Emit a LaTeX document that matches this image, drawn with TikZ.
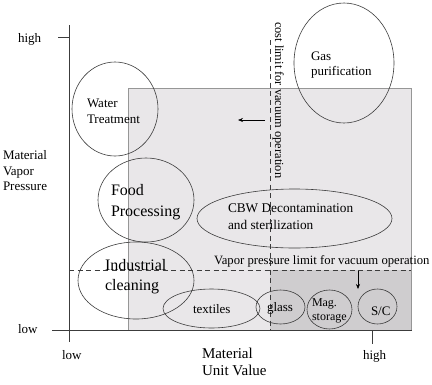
\documentclass[tikz,border=0pt]{standalone}
\usepackage{fontspec}
\setmainfont{Liberation Serif}
\usetikzlibrary{arrows.meta}
\definecolor{lightg}{RGB}{233,231,233}
\definecolor{darkg}{RGB}{207,205,207}
\definecolor{edgeg}{RGB}{150,150,150}
\definecolor{inkg}{RGB}{60,60,60}
\newcommand{\fs}[1]{\fontsize{#1}{#1}\selectfont}
\begin{document}
\begin{tikzpicture}[x=1pt,y=-1pt,
  lbl/.style={inner sep=0pt, outer sep=0pt, anchor=base west, align=left, text=black},
  blob/.style={draw=inkg, line width=0.6pt},
  axis/.style={draw=inkg, line width=0.7pt},
  limit/.style={draw=inkg, line width=0.6pt, dash pattern=on 5pt off 3.5pt},
  arr/.style={draw=black, line width=0.6pt, -{Stealth[length=5pt,width=4pt]}}]
\fill[white] (0,0) rectangle (432,384);
\useasboundingbox (0,0) rectangle (432,384);
% regions
\filldraw[fill=lightg, draw=edgeg, line width=0.6pt] (128,88) rectangle (411,330);
\fill[darkg] (270,270) rectangle (411,330);
\draw[edgeg, line width=0.6pt] (411,88) -- (411,330);
% axes
\draw[axis] (69,25) -- (69,342);
\draw[axis] (52,330) -- (412,330);
\draw[axis] (58,37) -- (69,37);
\draw[axis] (372,330) -- (372,344);
% limits
\draw[limit] (270,40) -- (270,330);
\draw[limit] (69,270) -- (411,270);
\coordinate (la) at (265,120);
\coordinate (lb) at (238,120);
\draw[arr] (la) -- (lb);
\coordinate (da) at (358,271);
\coordinate (db) at (358,289);
\draw[arr] (da) -- (db);
% blobs
\draw[blob] (115,109) ellipse [x radius=43, y radius=47];
\draw[blob] (344,63) ellipse [x radius=50, y radius=60];
\draw[blob] (146,200) ellipse [x radius=48, y radius=42];
\draw[blob] (136,280.5) ellipse [x radius=58, y radius=38.5];
\draw[blob] (294.5,218.5) ellipse [x radius=97.5, y radius=29.5];
\draw[blob] (211.5,308.5) ellipse [x radius=48.5, y radius=19.5];
\draw[blob] (280.5,307) ellipse [x radius=24.5, y radius=17];
\draw[blob] (329.5,309.5) ellipse [x radius=22.5, y radius=19.5];
\draw[blob] (377.5,306.5) ellipse [x radius=19.5, y radius=17.5];
% texts
\node[lbl, font=\fs{13}] (yhigh) at (18,42) {high};
\node[lbl, font=\fs{13}] (ylow) at (18,333) {low};
\node[lbl, font=\fs{13}] (xlow) at (62,359) {low};
\node[lbl, font=\fs{13}] (xhigh) at (363,359) {high};
\node[lbl, font=\fs{13}] (ylab1) at (3,159) {Material};
\node[lbl, font=\fs{13}] (ylab2) at (3,175) {Vapor};
\node[lbl, font=\fs{13}] (ylab3) at (3,190.5) {Pressure};
\node[lbl, font=\fs{15}] (xlab1) at (202,358) {Material};
\node[lbl, font=\fs{15}] (xlab2) at (202,375) {Unit Value};
\node[lbl, font=\fs{13}] (wt1) at (87,107) {Water};
\node[lbl, font=\fs{13}] (wt2) at (87,123) {Treatment};
\node[lbl, font=\fs{13}] (gp1) at (311,60) {Gas};
\node[lbl, font=\fs{13}] (gp2) at (311,75.5) {purification};
\node[lbl, font=\fs{16}] (fp1) at (111,195) {Food};
\node[lbl, font=\fs{16}] (fp2) at (111,216) {Processing};
\node[lbl, font=\fs{16}] (ic1) at (105,270) {Industrial};
\node[lbl, font=\fs{16}] (ic2) at (105,290) {cleaning};
\node[lbl, font=\fs{13.3}] (cbw1) at (228,212) {CBW Decontamination};
\node[lbl, font=\fs{13.3}] (cbw2) at (228,229) {and sterilization};
\node[lbl, font=\fs{13}] (tex) at (193,313) {textiles};
\node[lbl, font=\fs{13}] (gl) at (267,311) {glass};
\node[lbl, font=\fs{12}] (mag1) at (312,306) {Mag.};
\node[lbl, font=\fs{12}] (mag2) at (312,320) {storage};
\node[lbl, font=\fs{13}] (sc) at (371,315) {S/C};
\node[lbl, font=\fs{12.7}] (vpl) at (214,264) {Vapor pressure limit for vacuum operation};
\node[lbl, font=\fs{12.4}, rotate=-90] (cl) at (275,22) {cost limit for vacuum operation};
\end{tikzpicture}
\end{document}
